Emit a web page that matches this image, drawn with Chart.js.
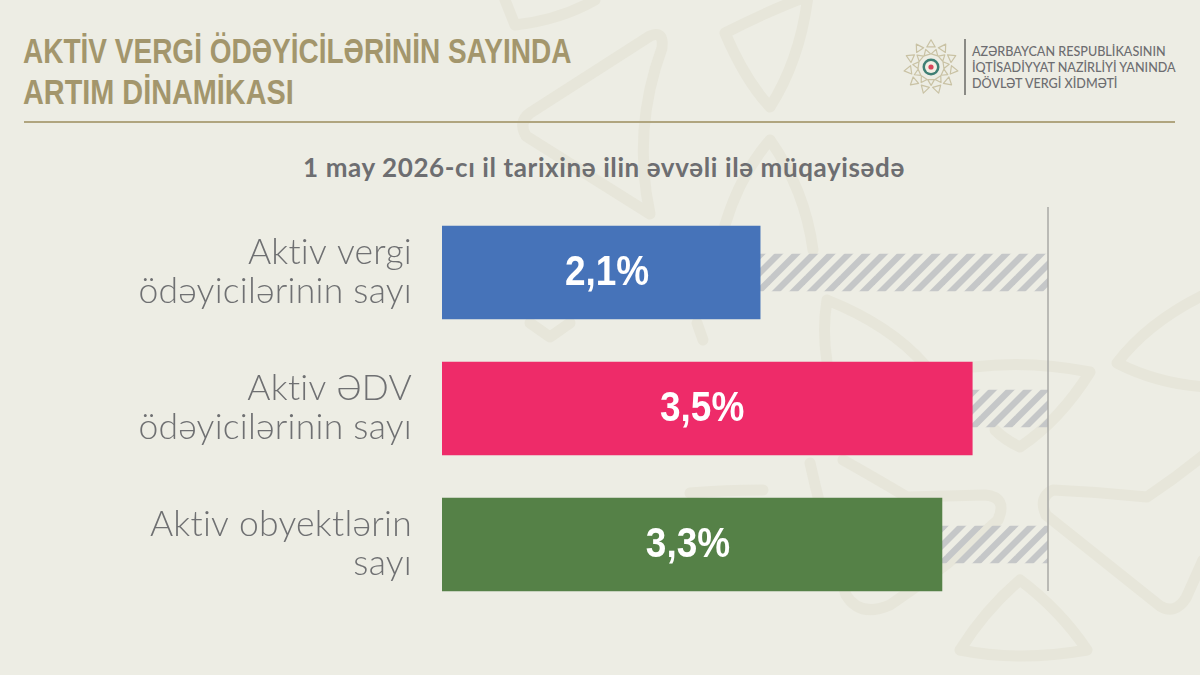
<!DOCTYPE html>
<html>
<head>
<meta charset="utf-8">
<script src="https://cdn.jsdelivr.net/npm/chart.js@4"></script>
<style>
  html, body { margin: 0; padding: 0; }
  body { width: 1200px; height: 675px; overflow: hidden; background: #edede4; position: relative; }
  #bg, #chart, .txt, .rule { position: absolute; }
  #bg { left: 0; top: 0; }
  #chart { left: 0; top: 0; }
  .txt { white-space: nowrap; }
  .title { left: 23px; color: #a3966c; font: bold 35px/41px "Liberation Sans", sans-serif; transform: scaleX(0.8); transform-origin: 0 0; }
  .sub { left: 0; width: 1208px; top: 152px; text-align: center; color: #6d6e71; font: bold 26px/30px Lato, sans-serif; letter-spacing: 0.6px; }
  .org { left: 972px; color: #6d6e71; font: 500 12.6px/16px Lato, sans-serif; }
  .rule { left: 24px; top: 120.5px; width: 1151px; height: 2px; background: #b0a57f; }
</style>
</head>
<body>
<svg id="bg" width="1200" height="675" fill="none" stroke="#e7e6da" stroke-width="11" stroke-linejoin="round" stroke-linecap="round">
  <path d="M505 0 L515 25 Q560 20 595 0"/>
  <path d="M650 36 L530 113 Q518 122 526 136 L650 214 Q632 130 662 48 Q664 30 650 36Z"/>
  <path d="M808 -4 Q800 60 770 107 Q745 80 725 33 Q770 10 808 -4"/>
  <path d="M725 225 Q740 175 770 140 Q805 190 813 250"/>
  <path d="M827 362 Q822 330 827 300 Q890 325 925 365"/>
  <path d="M843 460 Q870 475 907 497 L985 495 Q1008 497 998 520 Q950 565 890 605 Q860 618 846 595 Q825 530 810 463"/>
  <path d="M973 367 Q1030 360 1090 372 Q1060 420 1020 447 Q1005 440 995 430"/>
  <path d="M1210 292 Q1150 320 1117 363 Q1160 385 1210 387"/>
  <path d="M1210 450 Q1180 475 1147 497 Q1100 492 1053 490 Q1038 497 1046 515 L1160 606 Q1175 615 1186 598 L1203 560"/>
  <path d="M1020 580 Q985 610 960 650 Q1020 662 1087 650 Q1060 610 1020 580Z"/>
  <path d="M690 493 Q725 490 763 490"/>
  <path d="M530 323 L550 337 L570 323"/>
  <path d="M697 323 L703 340"/>
</svg>
<svg id="logo" style="position:absolute;left:900px;top:36px" width="62" height="62" viewBox="-31 -31 62 62"></svg>
<div class="rule"></div>
<div style="position:absolute;left:964px;top:39px;width:1.5px;height:56px;background:#8a8a85"></div>
<div class="txt title" style="top:30px">AKTİV VERGİ ÖDƏYİCİLƏRİNİN SAYINDA</div>
<div class="txt title" style="top:71px;transform:scaleX(0.824)">ARTIM DİNAMİKASI</div>
<div class="txt sub">1 may 2026-cı il tarixinə ilin əvvəli ilə müqayisədə</div>
<div class="txt org" style="top:44px">AZƏRBAYCAN RESPUBLİKASININ</div>
<div class="txt org" style="top:60px">İQTİSADİYYAT NAZİRLİYİ YANINDA</div>
<div class="txt org" style="top:76px">DÖVLƏT VERGİ XİDMƏTİ</div>
<canvas id="chart" width="1200" height="675"></canvas>

<script>
const CATEGORIES = [
  ['Aktiv vergi', 'ödəyicilərinin sayı'],
  ['Aktiv ƏDV', 'ödəyicilərinin sayı'],
  ['Aktiv obyektlərin', 'sayı']
];
const GROWTH = [2.1, 3.5, 3.3];
const REMAINDER = [1.9, 0.5, 0.7];
const BAR_COLORS = ['#4673b9', '#ee2b69', '#558147'];
const AXIS_MAX = 4;
const LABEL_NUDGE = [6, -5, -4];

// logo rosette, just decoration
const logo = document.getElementById('logo');
let logoHtml = '';
[[11, 23, 0, 4.2], [11, 15, 16, 3.4]].forEach(ring => {
  for (let i = 0; i < ring[0]; i++) {
    const a = i * 360 / ring[0] + ring[2];
    const s = ring[3];
    logoHtml += `<path transform="rotate(${a}) translate(0 ${-ring[1]})" d="M0 ${-s} L${s} ${s * 0.7} L${-s} ${s * 0.7}Z" fill="none" stroke="#c9c2a4" stroke-width="1.2" stroke-linejoin="round"/>`;
  }
});
logoHtml += '<circle r="8.5" fill="#3f7f74"/><circle r="6" fill="#f2efe4"/><circle r="2.6" fill="#d8455a"/>';
logo.innerHTML = logoHtml;

function hatchPattern() {
  const tile = document.createElement('canvas');
  tile.width = 35;
  tile.height = 35;
  const c = tile.getContext('2d');
  c.strokeStyle = '#c5c7c8';
  c.lineWidth = 6.4;
  for (let o = -35; o <= 70; o += 17.5) {
    c.beginPath();
    c.moveTo(o - 5, 40);
    c.lineTo(o + 40, -5);
    c.stroke();
  }
  return document.getElementById('chart').getContext('2d').createPattern(tile, 'repeat');
}

// non-zero spacing also turns off Lato's "ti" ligature in the axis labels
const labelSpacing = {
  id: 'labelSpacing',
  beforeDraw(chart) { chart.ctx.letterSpacing = '0.25px'; }
};

const limitLine = {
  id: 'limitLine',
  afterDatasetsDraw(chart) {
    const { ctx, scales } = chart;
    const x = scales.x.getPixelForValue(AXIS_MAX);
    const bottom = chart.getDatasetMeta(0).data[2];
    ctx.save();
    ctx.strokeStyle = '#a8a8a6';
    ctx.lineWidth = 1.5;
    ctx.beginPath();
    ctx.moveTo(x, 207);
    ctx.lineTo(x, bottom.y + bottom.height / 2);
    ctx.stroke();
    ctx.restore();
  }
};

const valueLabels = {
  id: 'valueLabels',
  afterDatasetsDraw(chart) {
    const { ctx } = chart;
    chart.getDatasetMeta(0).data.forEach((bar, i) => {
      const txt = GROWTH[i].toFixed(1).replace('.', ',') + '%';
      ctx.save();
      ctx.letterSpacing = '0px';
      ctx.fillStyle = '#ffffff';
      ctx.font = 'bold 42px "Liberation Sans", sans-serif';
      ctx.textAlign = 'center';
      ctx.textBaseline = 'middle';
      ctx.translate((bar.base + bar.x) / 2 + LABEL_NUDGE[i], bar.y + 1);
      ctx.scale(0.88, 1);
      ctx.fillText(txt, 0, 0);
      ctx.restore();
    });
  }
};

new Chart(document.getElementById('chart'), {
  type: 'bar',
  data: {
    labels: CATEGORIES,
    datasets: [
      { data: GROWTH, backgroundColor: BAR_COLORS, barThickness: 93 },
      { data: REMAINDER, backgroundColor: hatchPattern(), barThickness: 37 }
    ]
  },
  options: {
    indexAxis: 'y',
    responsive: false,
    animation: false,
    layout: { padding: { left: 0, right: 152, top: 204.5, bottom: 62.5 } },
    plugins: { legend: { display: false }, tooltip: { enabled: false } },
    scales: {
      x: { display: false, stacked: true, min: 0, max: AXIS_MAX },
      y: {
        stacked: true,
        grid: { display: false, drawTicks: false },
        border: { display: false },
        afterFit(scale) {
          scale.width = 442;
          // the two-line labels otherwise reserve room below the plot area
          scale.paddingTop = 0;
          scale.paddingBottom = 0;
        },
        ticks: {
          padding: 30,
          color: '#6f7072',
          font: { family: 'Lato', size: 35.5, weight: '300', lineHeight: 1.1 }
        }
      }
    }
  },
  plugins: [labelSpacing, limitLine, valueLabels]
});
</script>
</body>
</html>
